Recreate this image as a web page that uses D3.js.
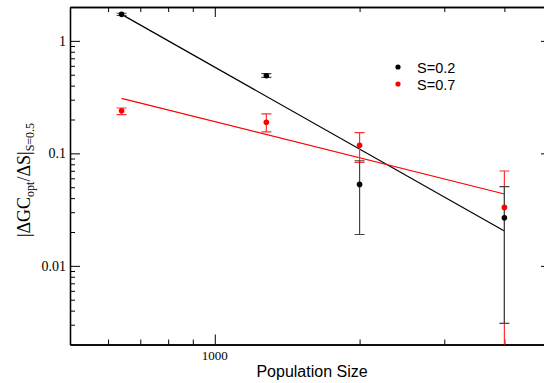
<!DOCTYPE html>
<html>
<head>
<meta charset="utf-8">
<script src="https://cdn.jsdelivr.net/npm/d3@7"></script>
<style>
body{margin:0;background:#fff;}
svg{display:block;}
</style>
</head>
<body>
<svg id="chart" width="544" height="383"></svg>
<script>
// ---- data ----
const popSize = [640, 1280, 2000, 4000];
const s02Values = [1.72, 0.49, 0.053, 0.0268];
const s02Upper  = [1.76, 0.512, 0.086, 0.0506];
const s02Lower  = [1.68, 0.474, 0.019, 0.00308];
const s07Values = [0.239, 0.189, 0.118, 0.0331];
const s07Upper  = [0.253, 0.224, 0.153, 0.0697];
const s07Lower  = [0.221, 0.155, 0.083, 0.001];
const s02FitX = [640, 4000], s02FitY = [1.72, 0.0204];
const s07FitX = [640, 4000], s07FitY = [0.308, 0.0435];
const seriesNames = ["S=0.2", "S=0.7"];
const seriesColors = ["#000000", "#ff0000"];
const xMajorTicks = [1000];
const xMinorTicks = [600, 700, 800, 900, 2000, 3000, 4000];
const yMajorTicks = [0.01, 0.1, 1];
const yTickLabels = ["0.01", "0.1", "1"];

// ---- layout ----
const svg = d3.select("#chart");
const L = 70, T = 7, W = 481, H = 337.5;
const x = d3.scaleLog().domain([500, 5000]).range([L, L + W]);
const y = d3.scaleLog().domain([0.002, 2]).range([T + H, T]);

const yMinor = [];
[0.001, 0.01, 0.1, 1].forEach(d => { for (let k = 2; k <= 9; k++) { const v = d * k; if (v > 0.002 && v < 2) yMinor.push(v); } });

svg.append("defs").append("clipPath").attr("id", "clip")
  .append("rect").attr("x", L).attr("y", T).attr("width", W).attr("height", H);

const serif = "'Liberation Serif','Times New Roman',serif";
const sans = "'Liberation Sans',Arial,sans-serif";

// axes (ticks inward)
function addAxis(axisGen, tx, ty) {
  const g = svg.append("g").attr("transform", `translate(${tx},${ty})`).call(axisGen);
  g.selectAll("path.domain").attr("stroke", "#000").attr("stroke-width", 1.3);
  g.selectAll(".tick line").attr("stroke", "#000").attr("stroke-width", 1);
  return g;
}
// bottom
addAxis(d3.axisBottom(x).tickValues(xMajorTicks).tickSize(-10).tickSizeOuter(0).tickFormat(""), 0, T + H);
addAxis(d3.axisBottom(x).tickValues(xMinorTicks).tickSize(-5).tickSizeOuter(0).tickFormat(""), 0, T + H);
// top
addAxis(d3.axisTop(x).tickValues(xMajorTicks).tickSize(-10).tickSizeOuter(0).tickFormat(""), 0, T);
addAxis(d3.axisTop(x).tickValues(xMinorTicks).tickSize(-5).tickSizeOuter(0).tickFormat(""), 0, T);
// left
addAxis(d3.axisLeft(y).tickValues(yMajorTicks).tickSize(-10).tickSizeOuter(0).tickFormat(""), L, 0);
addAxis(d3.axisLeft(y).tickValues(yMinor).tickSize(-5).tickSizeOuter(0).tickFormat(""), L, 0);
// right
addAxis(d3.axisRight(y).tickValues(yMajorTicks).tickSize(-10).tickSizeOuter(0).tickFormat(""), L + W, 0);
addAxis(d3.axisRight(y).tickValues(yMinor).tickSize(-5).tickSizeOuter(0).tickFormat(""), L + W, 0);

// tick labels
svg.append("g").selectAll("text").data(xMajorTicks).join("text")
  .attr("x", d => x(d)).attr("y", T + H + 15).attr("text-anchor", "middle")
  .attr("font-family", serif).attr("font-size", 13).text(d => d3.format("d")(d));
svg.append("g").selectAll("text").data(yMajorTicks).join("text")
  .attr("x", 66).attr("y", d => y(d) + 5).attr("text-anchor", "end")
  .attr("font-family", serif).attr("font-size", 14).text((d, i) => yTickLabels[i]);

// axis titles
svg.append("text").attr("x", 312).attr("y", 377).attr("text-anchor", "middle")
  .attr("font-family", sans).attr("font-size", 16).text("Population Size");
const yl = svg.append("text").attr("transform", "translate(30,180) rotate(-90)")
  .attr("text-anchor", "middle").attr("font-family", serif).attr("font-size", 18);
yl.append("tspan").text("|ΔGC");
yl.append("tspan").attr("font-size", 12).attr("dy", 4).text("opt");
yl.append("tspan").attr("dy", -4).text("/ΔS|");
yl.append("tspan").attr("font-size", 12).attr("dy", 4).text("S=0.5");

// plot content
const plot = svg.append("g").attr("clip-path", "url(#clip)");
const line = d3.line().x(d => x(d[0])).y(d => y(d[1]));
plot.append("path").datum(d3.zip(s02FitX, s02FitY)).attr("d", line).attr("fill", "none").attr("stroke", "#000").attr("stroke-width", 1.2);
plot.append("path").datum(d3.zip(s07FitX, s07FitY)).attr("d", line).attr("fill", "none").attr("stroke", "#ff0000").attr("stroke-width", 1.2);

const series = [
  {vals: s02Values, up: s02Upper, lo: s02Lower, color: seriesColors[0], bar: "#444"},
  {vals: s07Values, up: s07Upper, lo: s07Lower, color: seriesColors[1], bar: "#ff3030"}
];
const capW = 5;
series.slice().reverse().forEach(s => {
  const g = plot.append("g");
  popSize.forEach((p, i) => {
    const cx = x(p);
    g.append("line").attr("x1", cx).attr("x2", cx).attr("y1", y(s.up[i])).attr("y2", y(s.lo[i]))
      .attr("stroke", s.bar).attr("stroke-width", 1.2);
    [s.up[i], s.lo[i]].forEach(v => {
      g.append("line").attr("x1", cx - capW).attr("x2", cx + capW).attr("y1", y(v)).attr("y2", y(v))
        .attr("stroke", s.bar).attr("stroke-width", 1.2);
    });
  });
});
series.forEach(s => {
  plot.append("g").selectAll("circle").data(popSize).join("circle")
    .attr("cx", d => x(d)).attr("cy", (d, i) => y(s.vals[i])).attr("r", 2.8).attr("fill", s.color);
});

// legend
const leg = svg.append("g");
seriesNames.forEach((n, i) => {
  leg.append("circle").attr("cx", 398).attr("cy", 67 + i * 17).attr("r", 2.6).attr("fill", seriesColors[i]);
  leg.append("text").attr("x", 417).attr("y", 72.5 + i * 17).attr("font-family", sans).attr("font-size", 14.5).text(n);
});
</script>
</body>
</html>
